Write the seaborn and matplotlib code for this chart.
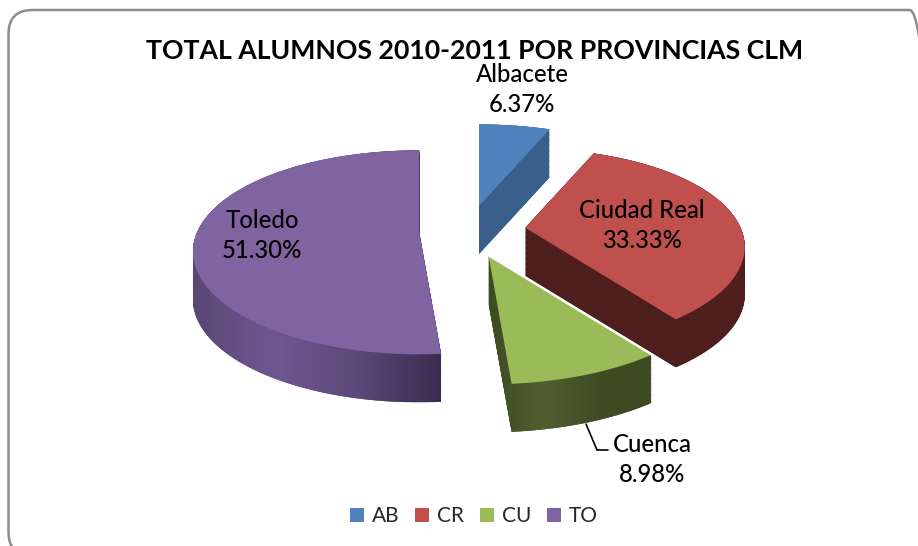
"""Total alumnos 2010-2011 por provincias CLM, exploded pie with a fake 3D look."""

import matplotlib

matplotlib.use("Agg")

import matplotlib.pyplot as plt
import numpy as np
import seaborn as sns
from matplotlib.colors import LinearSegmentedColormap
from matplotlib.patches import FancyBboxPatch, Patch, PathPatch, Polygon
from matplotlib.path import Path
from matplotlib.transforms import IdentityTransform

provinces = ["Albacete", "Ciudad Real", "Cuenca", "Toledo"]
codes = ["AB", "CR", "CU", "TO"]
shares = [6.37, 33.33, 8.98, 51.30]

explode = [0.25, 0.26, 0.26, 0.22]
radius_scale = [1.0, 0.97, 1.05, 1.0]
top_colors = ["#4F81BD", "#C0504D", "#9BBB59", "#8064A2"]
wall_colors = [
    ["#3A5F8B", "#3A5F8B"],
    ["#4E1F1E", "#4E1F1E"],
    ["#3E4A22", "#515F30", "#404C24", "#3E4A22"],
    ["#5A4775", "#6F5790", "#5C4878", "#382C4E"],
]
label_pos = [(522, 75), (642, 211), (652, 444), (262, 221)]

W, H = 918, 546
X0, Y0 = 468, 231  # pie origin in pixels
A, B = 222, 102  # pixels per unit radius
DEPTH = 48 / B
TILT = 0.2


def px(x, y):
    return (x - X0) / A, (Y0 - y) / B


def outline(wedge, k):
    """Apex plus arc of a pie wedge, with the near side drawn larger."""
    cx, cy = wedge.center
    t = np.radians(np.linspace(wedge.theta1, wedge.theta2, 120))
    dx, dy = np.cos(t) * wedge.r, np.sin(t) * wedge.r
    scale = k * (1 - TILT * dy)
    xs = np.r_[cx, cx + dx * scale]
    ys = np.r_[cy, cy + dy * scale]
    return np.column_stack([xs, ys])


sns.set_theme(style="white")
plt.rcParams["font.family"] = ["Lato", "DejaVu Sans"]

fig = plt.figure(figsize=(W / 100, H / 100), dpi=100)
ax = fig.add_axes([0, 0, 1, 1])
palette = sns.color_palette(top_colors)

wedges, _ = ax.pie(
    shares,
    explode=explode,
    startangle=90,
    counterclock=False,
    colors=palette,
)
shapes = [outline(w, k) for w, k in zip(wedges, radius_scale)]
for w in wedges:
    w.remove()

ax.set_aspect("auto")
ax.set_axis_off()

# back to front
for i in [0, 3, 1, 2]:
    pts = shapes[i]
    layers = [
        Path(np.vstack([pts + [0, -d], pts[:1] + [0, -d]]), closed=True)
        for d in np.linspace(0, DEPTH, 40)
    ]
    sweep = PathPatch(
        Path.make_compound_path(*layers),
        facecolor=wall_colors[i][0],
        edgecolor="none",
        zorder=2 + i,
    )
    ax.add_patch(sweep)
    cmap = LinearSegmentedColormap.from_list(codes[i], wall_colors[i])
    grad = ax.imshow(
        np.linspace(0, 1, 256)[None, :],
        extent=(pts[:, 0].min(), pts[:, 0].max(), pts[:, 1].min() - DEPTH, pts[:, 1].max()),
        cmap=cmap,
        aspect="auto",
        zorder=2.2 + i,
    )
    grad.set_clip_path(sweep)
    ax.add_patch(Polygon(pts, facecolor=palette[i], edgecolor="none", zorder=2.4 + i))

ax.set_xlim(px(0, 0)[0], px(W, 0)[0])
ax.set_ylim(px(0, H)[1], px(0, 0)[1])

# white seam between Cuenca and the Ciudad Real wall
seam = shapes[2][[0, -1]]
ax.plot(seam[:, 0], seam[:, 1], color="white", lw=1, zorder=5.5)

for name, share, (x, y) in zip(provinces, shares, label_pos):
    ax.text(*px(x, y), name, ha="center", va="center", fontsize=17.2, fontweight="medium", color="black", zorder=10)
    ax.text(*px(x, y + 30), f"{share:.2f}%", ha="center", va="center", fontsize=17.2, fontweight="medium", color="black", zorder=10)

leader = np.array([px(586, 424), px(597, 450), px(608, 450)])
ax.plot(leader[:, 0], leader[:, 1], color="black", lw=1.2, zorder=10)

ax.text(
    *px(475, 51),
    "TOTAL ALUMNOS 2010-2011 POR PROVINCIAS CLM",
    ha="center",
    va="center",
    fontsize=19.2,
    fontweight="bold",
    color="black",
)

handles = [Patch(facecolor=c, edgecolor="none") for c in palette]
fig.legend(
    handles,
    codes,
    ncol=4,
    loc="center",
    bbox_to_anchor=(474 / W, 1 - 516 / H),
    frameon=False,
    fontsize=15,
    handlelength=0.67,
    handleheight=0.67,
    handletextpad=0.38,
    columnspacing=0.75,
)

fig.add_artist(
    FancyBboxPatch(
        (8.5, H - 556),
        925,
        546,
        boxstyle="round,pad=0,rounding_size=24",
        facecolor="none",
        edgecolor="#8C8C8C",
        lw=1.8,
        transform=IdentityTransform(),
    )
)

fig.savefig("out.png", dpi=100)
